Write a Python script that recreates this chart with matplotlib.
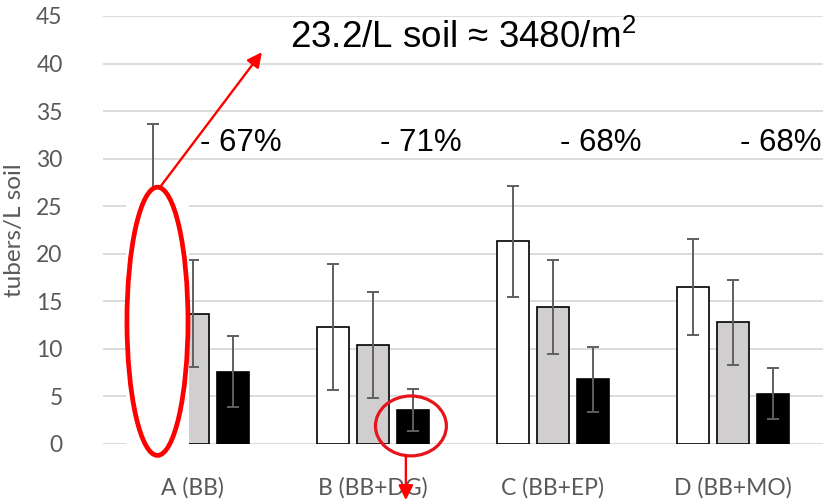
import matplotlib.pyplot as plt
import numpy as np
from matplotlib.patches import Ellipse, Rectangle

plt.rcParams['mathtext.default'] = 'regular'

# dane
groups = ['A (BB)', 'B (BB+DG)', 'C (BB+EP)', 'D (BB+MO)']
white_vals = [23.2, 12.3, 21.3, 16.5]
white_err = [10.4, 6.6, 5.8, 5.05]
gray_vals = [13.7, 10.4, 14.4, 12.8]
gray_err = [5.6, 5.6, 4.9, 4.45]
black_vals = [7.6, 3.6, 6.8, 5.3]
black_err = [3.75, 2.2, 3.45, 2.65]
reductions = ['- 67%', '- 71%', '- 68%', '- 68%']

x = np.arange(len(groups))
w = 0.178
off = 0.222

fig = plt.figure(figsize=(8.3, 5), dpi=100)
ax = fig.add_axes([0.124, 0.112, 0.8675, 0.856])

ekw = dict(ecolor='#5f5f5f', elinewidth=1.4, capsize=4.5, capthick=1.4)
ax.bar(x - off, white_vals, w, yerr=white_err, color='white', edgecolor='black',
       linewidth=1.2, error_kw=ekw, zorder=2)
ax.bar(x, gray_vals, w, yerr=gray_err, color='#d0cece', edgecolor='black',
       linewidth=1.2, error_kw=ekw, zorder=2)
ax.bar(x + off, black_vals, w, yerr=black_err, color='black', edgecolor='black',
       linewidth=1.2, error_kw=ekw, zorder=2)

ax.set_xlim(-0.5, 3.5)
ax.set_ylim(0, 45)
ax.set_yticks(np.arange(0, 46, 5))
ax.set_xticks(x)
ax.set_xticklabels(groups)
ax.grid(axis='y', color='#d9d9d9', linewidth=1.3)
ax.set_axisbelow(True)
for s in ax.spines.values():
    s.set_visible(False)
ax.tick_params(length=0, labelsize=16.5, labelcolor='#595959')
ax.tick_params(axis='x', pad=24)
ax.tick_params(axis='y', pad=29)
for lab in ax.get_xticklabels() + ax.get_yticklabels():
    lab.set_family('Lato')
ax.set_ylabel('tubers/L soil', fontsize=17.5, color='#595959', family='Lato', labelpad=8)

# procentowe spadki
for i, r in enumerate(reductions):
    ax.text(x[i] + 0.04, 31.6, r, fontsize=22.5, family='Liberation Sans',
            va='center', ha='left', zorder=5)

ax.text(0.539, 42.7, '23.2/L soil \u2248 3480/m$^2$', fontsize=26.5,
        family='Liberation Sans', va='center', ha='left', zorder=5)

# biala plama pod elipsa (zaslania pierwszy slupek)
ax.add_patch(Rectangle((-0.372, -0.5), 0.35, 27.0, facecolor='white',
                       edgecolor='none', zorder=3, clip_on=False))

# czerwone zaznaczenia
ax.add_patch(Ellipse((-0.197, 12.9), 0.339, 28.2, facecolor='white',
                     edgecolor='#ff0000', linewidth=3.4, zorder=3.5, clip_on=False))
ax.add_patch(Ellipse((1.211, 1.9), 0.394, 6.3, facecolor='none',
                     edgecolor='#e8141c', linewidth=2.3, zorder=4, clip_on=False))
ax.annotate('', xy=(0.383, 41.2), xytext=(-0.183, 27.0),
            arrowprops=dict(arrowstyle='-|>', color='#ff0000', lw=1.7,
                            mutation_scale=22, shrinkA=0, shrinkB=0),
            zorder=5, annotation_clip=False)
ax.annotate('', xy=(1.183, -5.9), xytext=(1.183, -1.16),
            arrowprops=dict(arrowstyle='-|>', color='#ff0000', lw=1.7,
                            mutation_scale=22, shrinkA=0, shrinkB=0),
            zorder=5, annotation_clip=False)

plt.savefig('out.png', dpi=100)
